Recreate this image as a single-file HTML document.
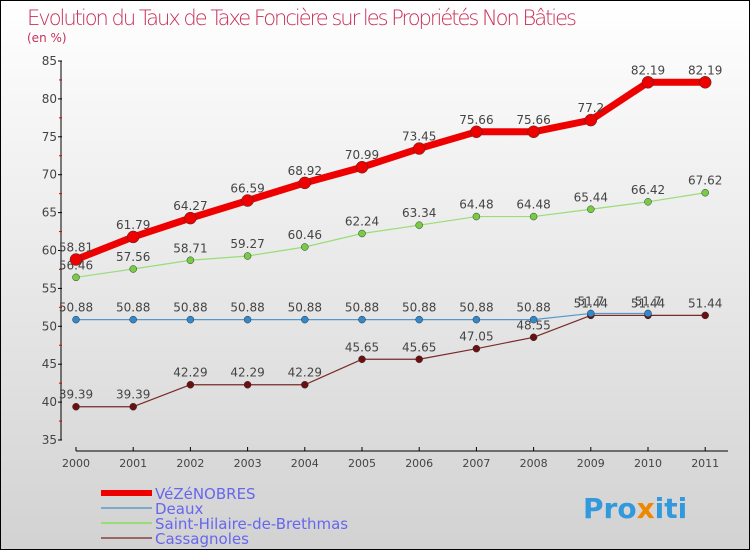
<!DOCTYPE html>
<html><head><meta charset="utf-8"><style>
html,body{margin:0;padding:0}
body{width:750px;height:550px;overflow:hidden;font-family:"DejaVu Sans","Liberation Sans",sans-serif}
#wrap{position:relative;width:748px;height:548px;border:1px solid #000;background:linear-gradient(#ffffff,#d2d2d2)}
</style></head><body>
<div id="wrap">
<svg id="chart" width="748" height="548" style="position:absolute;left:0;top:0">
<text x="26" y="24" font-size="21" fill="#c8305a" font-family="DejaVu Sans, sans-serif" style="font-weight:200" textLength="550">Evolution du Taux de Taxe Foncière sur les Propriétés Non Bâties</text>
<text x="26" y="41" font-size="12" fill="#c8305a">(en %)</text>
<g id="axes"></g><g id="series"></g><g id="legend"></g>
<text x="582" y="517" font-size="28" font-weight="bold" fill="#3399dd">Pro<tspan fill="#ee8800">x</tspan>iti</text>
</svg>
</div>
<script>
const years=["2000","2001","2002","2003","2004","2005","2006","2007","2008","2009","2010","2011"];
const yTicks=[35,40,45,50,55,60,65,70,75,80,85];
const vezenobres=[58.81,61.79,64.27,66.59,68.92,70.99,73.45,75.66,75.66,77.2,82.19,82.19];
const deaux=[50.88,50.88,50.88,50.88,50.88,50.88,50.88,50.88,50.88,51.7,51.7,null];
const saintHilaire=[56.46,57.56,58.71,59.27,60.46,62.24,63.34,64.48,64.48,65.44,66.42,67.62];
const cassagnoles=[39.39,39.39,42.29,42.29,42.29,45.65,45.65,47.05,48.55,51.44,51.44,51.44];
const NS="http://www.w3.org/2000/svg";
function X(i){return 75+i*57.2;}
function Y(v){return 60+(85-v)/50*379;}
function mk(tag,attrs,parent,txt){const e=document.createElementNS(NS,tag);for(const k in attrs)e.setAttribute(k,attrs[k]);if(txt!=null)e.textContent=txt;parent.appendChild(e);return e;}
const axes=document.getElementById('axes');
let ya=mk('line',{x1:60,y1:Y(85),x2:60,y2:Y(35),stroke:'#000'},axes);

yTicks.forEach(t=>{
 mk('line',{x1:57,x2:61,y1:Y(t),y2:Y(t),stroke:'#000'},axes);
 if(t<85){mk('line',{x1:58,x2:61,y1:Y(t+2.5),y2:Y(t+2.5),stroke:'#d00'},axes);}
 let l=mk('text',{x:56,y:Y(t)+4,'font-size':12,fill:'#444','text-anchor':'end'},axes,t);
 
});
let xa=mk('line',{x1:X(0),y1:450,x2:727,y2:450,stroke:'#000'},axes);

years.forEach((y,i)=>{
 mk('line',{x1:X(i),x2:X(i),y1:446,y2:450,stroke:'#000'},axes);
 let l=mk('text',{x:X(i),y:466,'font-size':11,fill:'#444','text-anchor':'middle'},axes,y);
 
});
const sg=document.getElementById('series');
function draw(arr,name,color,w,r,dot){
 const g=mk('g',{},sg);
 
 let pts=[];arr.forEach((v,i)=>{if(v!=null)pts.push(X(i)+','+Y(v));});
 mk('polyline',{points:pts.join(' '),fill:'none',stroke:color,'stroke-width':w,'stroke-linejoin':'round'},g);
 arr.forEach((v,i)=>{if(v==null)return;
  let c=mk('circle',{cx:X(i),cy:Y(v),r:r,fill:dot,stroke:'#333','stroke-width':0.5},g);
  
  let t=mk('text',{x:X(i),y:Y(v)-8,'font-size':12,fill:'#444','text-anchor':'middle'},g,String(v));
  
 });
}
draw(cassagnoles,'cassagnoles','#7a2a2a',1.2,3.5,'#6a1010');
draw(deaux,'deaux','#5599cc',1.2,3.5,'#3388cc');
draw(saintHilaire,'saint-hilaire','#99dd77',1.2,3.5,'#77cc44');
draw(vezenobres,'vezenobres','#ee0000',7,6,'#ee0000');
const lg=document.getElementById('legend');
const items=[["VéZéNOBRES","#ee0000",6],["Deaux","#7aaacc",2],["Saint-Hilaire-de-Brethmas","#99dd77",2],["Cassagnoles","#996666",2]];
items.forEach((it,i)=>{
 const y=492+i*15;
 const g=mk('g',{},lg);
 
 mk('line',{x1:100,x2:151,y1:y,y2:y,stroke:it[1],'stroke-width':it[2]},g);
 mk('text',{x:154,y:y+6,'font-size':15,fill:'#6666ee'},g,it[0]);
});
</script>
</body></html>
